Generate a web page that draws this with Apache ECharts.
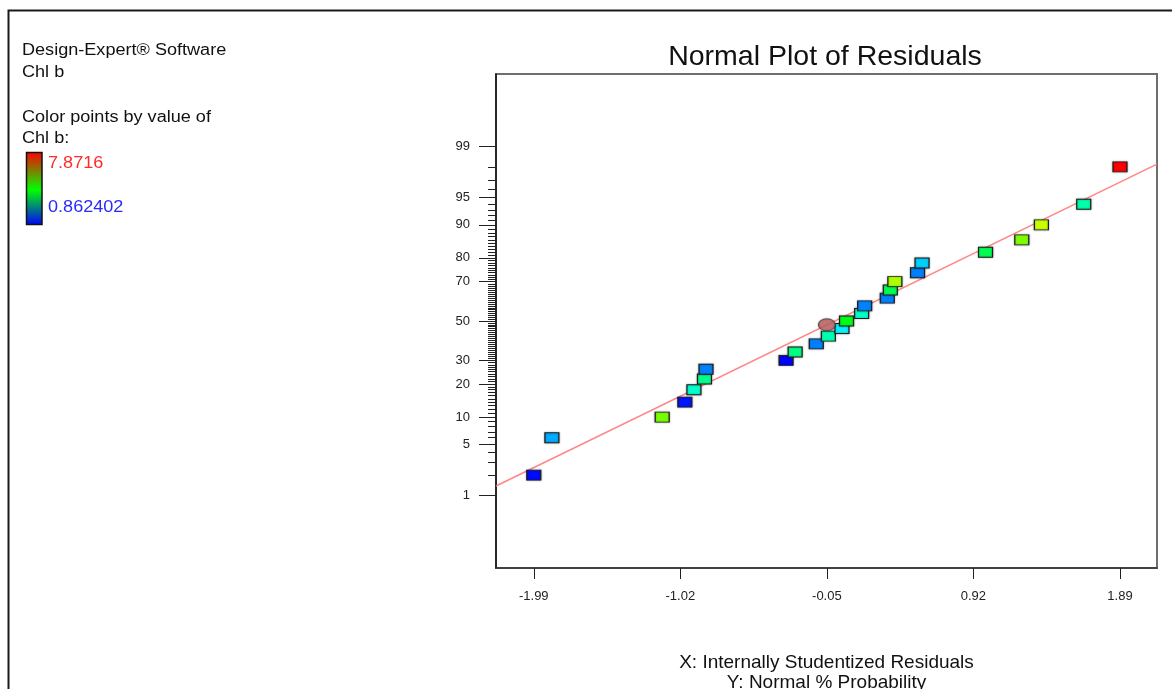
<!DOCTYPE html>
<html>
<head>
<meta charset="utf-8">
<script src="https://cdn.jsdelivr.net/npm/echarts@6/dist/echarts.min.js"></script>
<style>
  html, body { margin: 0; padding: 0; background: #ffffff; }
  #chart { width: 1172px; height: 689px; }
</style>
</head>
<body>
<div id="chart"></div>
<script>
// Internally studentized residuals, sorted ascending
const residuals = [-1.99, -1.87, -1.14, -0.99, -0.93, -0.86, -0.85, -0.32, -0.26, -0.12, -0.04, 0.05, 0.08,
                   0.18, 0.20, 0.35, 0.37, 0.40, 0.55, 0.58, 1.00, 1.24, 1.37, 1.65, 1.89];
// Normal % probability of each ranked residual
const normalProb = [2, 6, 10, 14, 18, 22, 26, 30, 34, 38, 42, 46, 50, 54, 58, 62, 66, 70, 74, 78, 82, 86, 90, 94, 98];
// Chl b response of each run, used for the point colour
const chlB = [0.93, 2.03, 5.19, 1.00, 2.99, 3.40, 1.74, 0.87, 3.49, 1.74, 3.14, 2.53, 4.22,
              2.99, 1.75, 1.74, 3.81, 5.54, 1.74, 2.29, 3.81, 5.24, 5.74, 3.20, 7.87];
const chlBRange = [0.862402, 7.8716];
const chlBLabels = ['7.8716', '0.862402'];

// Highlighted run (drawn as an ellipse)
const markedResidual = [-0.05];
const markedProb = [48];

// Normal reference line, end points (residual, % probability)
const refLineResidual = [-2.24, 2.135];
const refLineProb = [1.40, 98.17];

// Axis ticks
const xTicks = [-1.99, -1.02, -0.05, 0.92, 1.89];
const xRange = [-2.24, 2.135];
const yMajorTicks = [1, 5, 10, 20, 30, 50, 70, 80, 90, 95, 99];
const yRangeProb = [0.05, 99.95];
const yMinorTicks = [];
for (let p = 2; p <= 98; p++) {
  if (yMajorTicks.indexOf(p) < 0) yMinorTicks.push(p);
}

// Inverse of the standard normal CDF (Acklam's rational approximation)
function probit(p) {
  const a = [-3.969683028665376e+01, 2.209460984245205e+02, -2.759285104469687e+02,
             1.383577518672690e+02, -3.066479806614716e+01, 2.506628277459239e+00];
  const b = [-5.447609879822406e+01, 1.615858368580409e+02, -1.556989798598866e+02,
             6.680131188771972e+01, -1.328068155288572e+01];
  const c = [-7.784894002430293e-03, -3.223964580411365e-01, -2.400758277161838e+00,
             -2.549732539343734e+00, 4.374664141464968e+00, 2.938163982698783e+00];
  const d = [7.784695709041462e-03, 3.224671290700398e-01, 2.445134137142996e+00,
             3.754408661907416e+00];
  const pl = 0.02425, ph = 1 - pl;
  let q, r;
  if (p < pl) {
    q = Math.sqrt(-2 * Math.log(p));
    return (((((c[0] * q + c[1]) * q + c[2]) * q + c[3]) * q + c[4]) * q + c[5]) /
           ((((d[0] * q + d[1]) * q + d[2]) * q + d[3]) * q + 1);
  }
  if (p > ph) {
    q = Math.sqrt(-2 * Math.log(1 - p));
    return -(((((c[0] * q + c[1]) * q + c[2]) * q + c[3]) * q + c[4]) * q + c[5]) /
            ((((d[0] * q + d[1]) * q + d[2]) * q + d[3]) * q + 1);
  }
  q = p - 0.5;
  r = q * q;
  return (((((a[0] * r + a[1]) * r + a[2]) * r + a[3]) * r + a[4]) * r + a[5]) * q /
         (((((b[0] * r + b[1]) * r + b[2]) * r + b[3]) * r + b[4]) * r + 1);
}
const pz = pct => probit(pct / 100);

const yMin = pz(yRangeProb[0]);
const yMax = pz(yRangeProb[1]);
const majorZ = yMajorTicks.map(pz);
const minorZ = yMinorTicks.map(pz);

function majorLabel(v) {
  let best = 0, bestD = Infinity;
  majorZ.forEach((z, i) => { const dd = Math.abs(z - v); if (dd < bestD) { bestD = dd; best = i; } });
  return String(yMajorTicks[best]);
}

const FONT = 'Liberation Sans, Arial, sans-serif';
const chart = echarts.init(document.getElementById('chart'), null, { renderer: 'canvas' });

const leftText = (text, x, y, color) => ({
  type: 'text', x: x, y: y, scaleX: 1.13,
  style: { text: text, fill: color, font: '16px ' + FONT, verticalAlign: 'middle', align: 'left' }
});

chart.setOption({
  backgroundColor: '#ffffff',
  animation: false,
  title: {
    text: 'Normal Plot of Residuals',
    left: 825, top: 43, textAlign: 'center', padding: 0,
    textStyle: { fontFamily: FONT, fontSize: 28.5, fontWeight: 'normal', color: '#111111' }
  },
  grid: {
    left: 496, top: 74, width: 661, height: 494,
    containLabel: false, outerBoundsMode: 'none',
    show: true, borderColor: '#6e6e6e', borderWidth: 2, backgroundColor: 'transparent'
  },
  xAxis: {
    type: 'value', min: xRange[0], max: xRange[1],
    splitLine: { show: false },
    axisLine: { onZero: false, lineStyle: { color: '#333333', width: 1.5 } },
    axisTick: { customValues: xTicks, length: 11, lineStyle: { color: '#222222', width: 1 } },
    axisLabel: {
      customValues: xTicks, margin: 22, fontSize: 13, fontFamily: FONT, color: '#222222',
      formatter: v => v.toFixed(2)
    },
    name: 'X: Internally Studentized Residuals\nY: Normal % Probability',
    nameLocation: 'middle', nameGap: 85,
    nameTextStyle: { fontFamily: FONT, fontSize: 19, lineHeight: 20, color: '#111111' }
  },
  yAxis: [
    {
      type: 'value', position: 'left', min: yMin, max: yMax,
      splitLine: { show: false },
      axisLine: { onZero: false, lineStyle: { color: '#111111', width: 1.5 } },
      axisTick: { customValues: majorZ, length: 17, lineStyle: { color: '#222222', width: 1 } },
      axisLabel: {
        customValues: majorZ, margin: 26, fontSize: 13, fontFamily: FONT, color: '#222222',
        formatter: majorLabel
      }
    },
    {
      type: 'value', position: 'left', offset: 0, min: yMin, max: yMax,
      splitLine: { show: false },
      axisLine: { show: false, onZero: false },
      axisTick: { customValues: minorZ, length: 8, lineStyle: { color: '#222222', width: 1 } },
      axisLabel: { show: false }
    }
  ],
  visualMap: {
    show: false, type: 'continuous', seriesIndex: 1, dimension: 2,
    min: chlBRange[0], max: chlBRange[1],
    inRange: {
      color: ['#0000ff', '#0080ff', '#00ffff', '#00ff80', '#00ff00', '#80ff00', '#ffff00', '#ff8000', '#ff0000']
    }
  },
  series: [
    {
      type: 'line', silent: true, symbol: 'none', z: 1,
      data: refLineResidual.map((r, i) => [r, pz(refLineProb[i])]),
      lineStyle: { color: '#ff7a7a', width: 1.6, opacity: 0.9 }
    },
    {
      type: 'scatter', symbol: 'rect', symbolSize: [14, 10], z: 3,
      data: residuals.map((r, i) => [r, pz(normalProb[i]), chlB[i]]),
      itemStyle: {
        borderColor: '#1e1e1e', borderWidth: 1, opacity: 1,
        shadowBlur: 2, shadowColor: 'rgba(0,0,0,0.35)'
      }
    },
    {
      type: 'scatter', symbol: 'circle', symbolSize: [17, 12], z: 4,
      data: markedResidual.map((r, i) => [r, pz(markedProb[i])]),
      itemStyle: {
        color: '#bf6161', borderColor: '#444444', borderWidth: 1,
        shadowBlur: 2, shadowColor: 'rgba(0,0,0,0.3)'
      }
    }
  ],
  graphic: [
    {
      type: 'rect', silent: true,
      shape: { x: 8.5, y: 10.5, width: 1200, height: 700 },
      style: { fill: 'none', stroke: '#1a1a1a', lineWidth: 2 }
    },
    leftText('Design-Expert\u00ae Software', 22, 51, '#111111'),
    leftText('Chl b', 22, 72.5, '#111111'),
    leftText('Color points by value of', 22, 118, '#111111'),
    leftText('Chl b:', 22, 139, '#111111'),
    {
      type: 'rect', silent: true,
      shape: { x: 26.5, y: 152.5, width: 15.5, height: 72 },
      style: {
        fill: new echarts.graphic.LinearGradient(0, 0, 0, 1, [
          { offset: 0, color: '#ff0000' },
          { offset: 0.52, color: '#00ff00' },
          { offset: 1, color: '#0000ff' }
        ]),
        stroke: '#111111', lineWidth: 1.5
      }
    },
    leftText(chlBLabels[0], 48, 163.5, '#ff2a2a'),
    leftText(chlBLabels[1], 48, 208, '#2a2aff')
  ]
});
</script>
</body>
</html>
